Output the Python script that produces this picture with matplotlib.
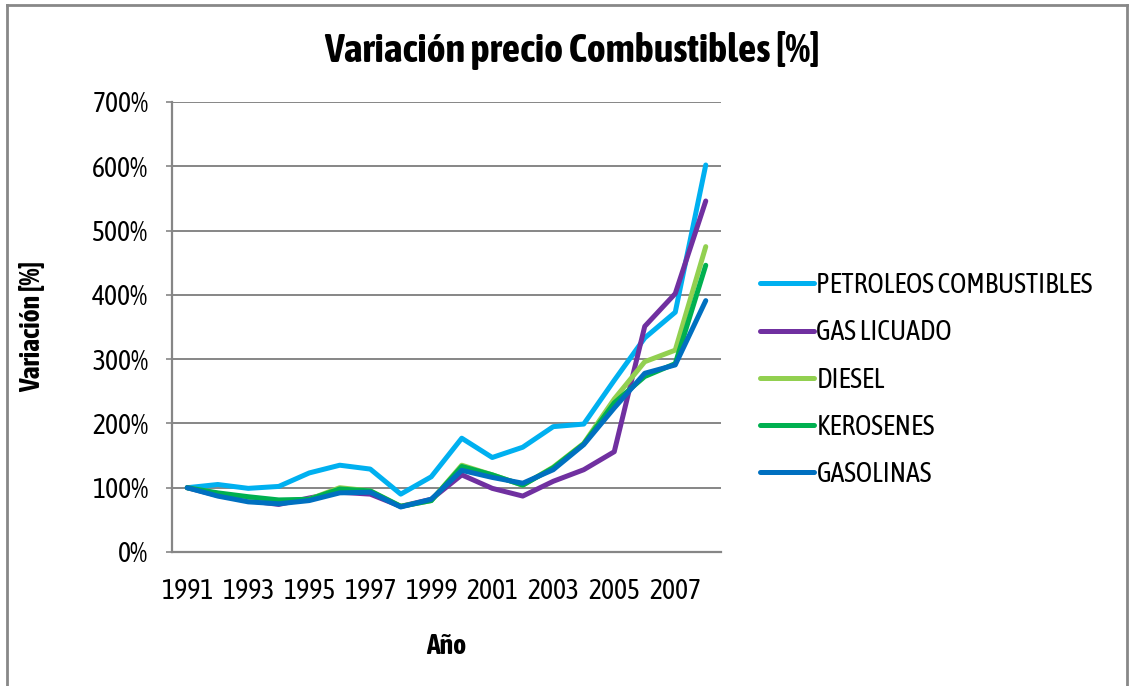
import matplotlib
matplotlib.use("Agg")
import matplotlib.pyplot as plt
from matplotlib.lines import Line2D
from matplotlib import font_manager

years = list(range(1991, 2009))
petroleos = [100, 105, 99, 102, 123, 135, 129, 90, 117, 177, 147, 163, 195, 199, 267, 333, 373, 602]
gas_licuado = [100, 88, 80, 74, 84, 93, 90, 71, 82, 120, 99, 87, 110, 128, 156, 351, 402, 546]
diesel = [100, 91, 84, 79, 82, 100, 95, 71, 80, 135, 120, 104, 132, 169, 238, 296, 314, 475]
kerosenes = [100, 92, 86, 81, 82, 98, 95, 71, 80, 133, 120, 104, 131, 168, 232, 273, 293, 446]
gasolinas = [100, 87, 78, 75, 80, 92, 93, 70, 82, 127, 116, 107, 128, 167, 224, 278, 291, 391]

series_names = ["PETROLEOS COMBUSTIBLES", "GAS LICUADO", "DIESEL", "KEROSENES", "GASOLINAS"]
series_values = [petroleos, gas_licuado, diesel, kerosenes, gasolinas]
colors = ["#00B0F0", "#7030A0", "#92D050", "#00B050", "#0070C0"]
y_ticks = [0, 100, 200, 300, 400, 500, 600, 700]
x_tick_labels = [str(y) for y in years[::2]]


def _w(w):
    if isinstance(w, int):
        return w
    return {"normal": 400, "regular": 400, "bold": 700, "light": 300}.get(str(w).lower(), 400)


# prefer a condensed sans family that has both regular and bold faces
weights = {}
for f in font_manager.fontManager.ttflist:
    if "Narrow" in f.name or "Condensed" in f.name:
        if f.style == "normal":
            weights.setdefault(f.name, set()).add(_w(f.weight))
fam = "Liberation Sans"
cands = sorted(weights.items(), key=lambda kv: (not (700 in kv[1] and 400 in kv[1]), not (700 in kv[1]), kv[0]))
if cands:
    fam = cands[0][0]
plt.rcParams["font.family"] = [fam, "DejaVu Sans"]

W, H = 1131, 686
fig = plt.figure(figsize=(W / 100, H / 100), dpi=100)
ax = fig.add_axes([172 / W, 1 - 552 / H, (721 - 172) / W, (552 - 102) / H])

idx = list(range(len(years)))
for name, vals, c in zip(series_names, series_values, colors):
    ax.plot(idx, vals, color=c, lw=3.6, solid_joinstyle="round", solid_capstyle="round", label=name)

ax.set_xlim(-0.5, len(years) - 0.5)
ax.set_ylim(0, 700)
ax.set_yticks(y_ticks)
ax.set_yticklabels([f"{v}%" for v in y_ticks])
ax.set_xticks(idx[::2])
ax.set_xticklabels(x_tick_labels)

grid_c = "#868686"
ax.grid(axis="y", color=grid_c, lw=1.4)
ax.set_axisbelow(True)
for s in ["top", "right"]:
    ax.spines[s].set_visible(False)
for s in ["left", "bottom"]:
    ax.spines[s].set_color(grid_c)
    ax.spines[s].set_linewidth(1.6)

fs = 20
ax.tick_params(axis="y", length=4, color=grid_c, width=1.2, pad=13, labelsize=fs)
ax.tick_params(axis="x", length=0, pad=19, labelsize=fs)

ax.set_ylabel("Variación [%]", fontsize=fs, fontweight="bold", labelpad=33)
ax.set_xlabel("Año", fontsize=fs, fontweight="bold", labelpad=20)
fig.text(572 / W, 1 - 51 / H, "Variación precio Combustibles [%]", ha="center", va="center",
         fontsize=29, fontweight="bold")

handles = [Line2D([0], [0], color=c, lw=3.6, solid_capstyle="round") for c in colors]
leg = fig.legend(handles, series_names, loc="center left", bbox_to_anchor=(749 / W, 1 - 380 / H),
                 frameon=False, fontsize=fs, handlelength=1.95, handletextpad=0.08,
                 labelspacing=0.73, borderaxespad=0)

# outer chart border
border_c = "#888888"
fig.add_artist(Line2D([7 / W, 7 / W], [0, 1 - 5 / H], transform=fig.transFigure, color=border_c, lw=2))
fig.add_artist(Line2D([7 / W, 1127 / W], [1 - 5 / H, 1 - 5 / H], transform=fig.transFigure, color=border_c, lw=2))
fig.add_artist(Line2D([1127 / W, 1127 / W], [0, 1 - 5 / H], transform=fig.transFigure, color=border_c, lw=2))

fig.savefig("out.png", dpi=100)
